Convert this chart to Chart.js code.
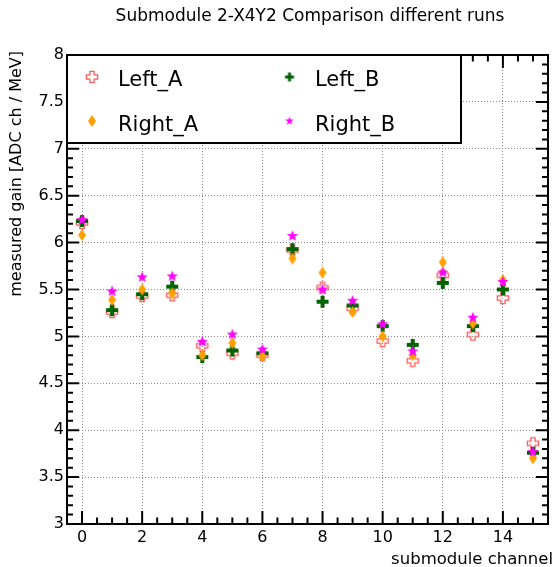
<!DOCTYPE html>
<html><head><meta charset="utf-8">
<script src="https://cdn.jsdelivr.net/npm/chart.js@4"></script>
<style>html,body{margin:0;padding:0;background:#fff}canvas{display:block}</style>
</head><body>
<canvas id="c" width="555" height="567"></canvas>
<script>
// ---- data ----
const channels = [0,1,2,3,4,5,6,7,8,9,10,11,12,13,14,15];
const leftA  = [6.21,5.26,5.43,5.44,4.90,4.82,4.80,5.92,5.52,5.30,4.95,4.74,5.65,5.02,5.41,3.86];
const leftB  = [6.23,5.28,5.45,5.53,4.78,4.85,4.82,5.93,5.37,5.33,5.11,4.91,5.57,5.11,5.50,3.76];
const rightA = [6.08,5.39,5.50,5.46,4.80,4.93,4.79,5.83,5.68,5.26,5.00,4.80,5.79,5.14,5.60,3.70];
const rightB = [6.24,5.48,5.63,5.64,4.94,5.02,4.86,6.07,5.50,5.38,5.13,4.84,5.68,5.20,5.58,3.77];
const seriesNames = ['Left_A','Left_B','Right_A','Right_B'];
const xTickValues = [0,2,4,6,8,10,12,14];
const yTickValues = [3,3.5,4,4.5,5,5.5,6,6.5,7,7.5,8];
const titleText = 'Submodule 2-X4Y2 Comparison different runs';
const xTitle = 'submodule channel';
const yTitle = 'measured gain [ADC ch / MeV]';

const FONT = 'DejaVu Sans';
const COLORS = {Left_A:'#ff5a5a', Left_B:'#006400', Right_A:'#ffa000', Right_B:'#ff00ff'};

function crossPath(ctx, c, s, a){
  ctx.beginPath();
  ctx.moveTo(c-a,c-s);ctx.lineTo(c+a,c-s);ctx.lineTo(c+a,c-a);ctx.lineTo(c+s,c-a);
  ctx.lineTo(c+s,c+a);ctx.lineTo(c+a,c+a);ctx.lineTo(c+a,c+s);ctx.lineTo(c-a,c+s);
  ctx.lineTo(c-a,c+a);ctx.lineTo(c-s,c+a);ctx.lineTo(c-s,c-a);ctx.lineTo(c-a,c-a);
  ctx.closePath();
}
function makeMarker(kind, color, scale){
  const cv = document.createElement('canvas');
  cv.width = 16; cv.height = 16;
  const ctx = cv.getContext('2d');
  const c = 8, k = scale;
  ctx.fillStyle = color; ctx.strokeStyle = color;
  if (kind === 'openCross'){
    crossPath(ctx, c, 5.6*k, 2.1*k); ctx.lineWidth = 1.3; ctx.stroke();
  } else if (kind === 'cross'){
    crossPath(ctx, c, 6*k, 2*k); ctx.fill();
  } else if (kind === 'diamond'){
    ctx.beginPath(); ctx.moveTo(c,c-6*k); ctx.lineTo(c+4*k,c); ctx.lineTo(c,c+6*k); ctx.lineTo(c-4*k,c); ctx.closePath(); ctx.fill();
  } else if (kind === 'star'){
    ctx.beginPath();
    for (let i=0;i<10;i++){
      const r = (i%2===0)?6*k:2.5*k;
      const ang = -Math.PI/2 + i*Math.PI/5;
      const px = c + r*Math.cos(ang), py = c + r*Math.sin(ang);
      if (i===0) ctx.moveTo(px,py); else ctx.lineTo(px,py);
    }
    ctx.closePath(); ctx.fill();
  }
  return cv;
}
const kinds = {Left_A:'openCross', Left_B:'cross', Right_A:'diamond', Right_B:'star'};
const markers = {}, legendMarkers = {};
for (const n of seriesNames){
  markers[n] = makeMarker(kinds[n], COLORS[n], 1);
  legendMarkers[n] = makeMarker(kinds[n], COLORS[n], n==='Left_A'?1:(n==='Right_A'?1:0.75));
}

const seriesValues = {Left_A:leftA, Left_B:leftB, Right_A:rightA, Right_B:rightB};
const datasets = seriesNames.map((n, i) => ({
  label: n,
  data: channels.map((ch, j) => ({x: ch, y: seriesValues[n][j]})),
  pointStyle: markers[n],
  pointRadius: 6,
  order: seriesNames.length - i
}));

const legendLayout = {
  box: {l:67, t:55, r:461, b:143},
  items: {
    Left_A:{mx:92, my:77, tx:118, ty:85.5},
    Left_B:{mx:289.5, my:77, tx:315, ty:85.5},
    Right_A:{mx:92, my:121, tx:118, ty:130.5},
    Right_B:{mx:289.5, my:121, tx:315, ty:130.5}
  }
};

const rootStyle = {
  id: 'rootStyle',
  afterDraw(chart){
    const {ctx, chartArea:a, scales:{x, y}} = chart;
    ctx.save();
    ctx.strokeStyle = '#000'; ctx.lineWidth = 2;
    ctx.beginPath();
    for (let i=-1;i<=31;i++){
      const v = i/2;
      const px = x.getPixelForValue(v);
      if (px <= a.left+1 || px >= a.right-1) continue;
      const len = xTickValues.includes(v) ? 13 : 6.5;
      ctx.moveTo(px, a.bottom); ctx.lineTo(px, a.bottom-len);
      ctx.moveTo(px, a.top); ctx.lineTo(px, a.top+len);
    }
    for (let i=30;i<=80;i++){
      const v = i/10;
      const py = y.getPixelForValue(v);
      if (py <= a.top+1 || py >= a.bottom-1) continue;
      const len = (i%5===0) ? 12 : 6;
      ctx.moveTo(a.left, py); ctx.lineTo(a.left+len, py);
      ctx.moveTo(a.right, py); ctx.lineTo(a.right-len, py);
    }
    ctx.stroke();
    ctx.strokeRect(a.left, a.top, a.right-a.left, a.bottom-a.top);

    // legend
    const B = legendLayout.box;
    ctx.fillStyle = '#fff';
    ctx.fillRect(B.l, B.t, B.r-B.l, B.b-B.t);
    ctx.strokeRect(B.l, B.t, B.r-B.l, B.b-B.t);
    ctx.fillStyle = '#000';
    ctx.font = '21px "' + FONT + '"';
    ctx.textAlign = 'left'; ctx.textBaseline = 'alphabetic';
    chart.data.datasets.forEach(ds => {
      const it = legendLayout.items[ds.label];
      const m = legendMarkers[ds.label];
      ctx.drawImage(m, it.mx - m.width/2, it.my - m.height/2);
      ctx.fillText(ds.label, it.tx, it.ty);
    });

    // titles
    ctx.font = '17px "' + FONT + '"';
    ctx.textAlign = 'center'; ctx.textBaseline = 'middle';
    ctx.fillText(titleText, 310, 17);
    ctx.font = '16.5px "' + FONT + '"';
    ctx.textAlign = 'right'; ctx.textBaseline = 'alphabetic';
    ctx.fillText(xTitle, 553, 564);
    ctx.save();
    ctx.translate(21, 51);
    ctx.rotate(-Math.PI/2);
    ctx.textAlign = 'right'; ctx.textBaseline = 'alphabetic';
    ctx.font = '16px "' + FONT + '"';
    ctx.fillText(yTitle, 0, 0);
    ctx.restore();
    ctx.restore();
  }
};

Chart.defaults.font.family = FONT;
Chart.defaults.color = '#000';

new Chart(document.getElementById('c'), {
  type: 'scatter',
  data: {datasets},
  plugins: [rootStyle],
  options: {
    responsive: false,
    devicePixelRatio: 1,
    animation: false,
    layout: {padding: {top: 55, right: 2, left: 0, bottom: 0}},
    plugins: {legend: {display: false}, tooltip: {enabled: false}, title: {display: false}},
    scales: {
      x: {
        type: 'linear', min: -0.5, max: 15.5,
        afterBuildTicks: s => { s.ticks = xTickValues.map(v => ({value: v})); },
        afterFit: s => { s.height = 43; },
        grid: {color: '#8a8a8a', lineWidth: 1, drawTicks: false},
        border: {display: false, dash: [1, 2]},
        ticks: {font: {size: 16}, padding: 4, maxRotation: 0, color: '#000', callback: v => String(v)}
      },
      y: {
        type: 'linear', min: 3, max: 8,
        afterBuildTicks: s => { s.ticks = yTickValues.map(v => ({value: v})); },
        afterFit: s => { s.width = 67; },
        grid: {color: '#8a8a8a', lineWidth: 1, drawTicks: false},
        border: {display: false, dash: [1, 2]},
        ticks: {font: {size: 16}, padding: 3, color: '#000', callback: v => String(v)}
      }
    }
  }
});
</script>
</body></html>
